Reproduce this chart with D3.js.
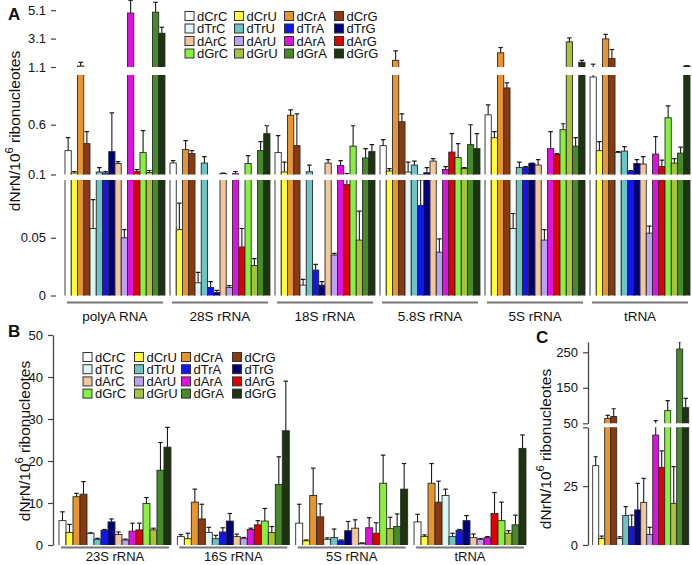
<!DOCTYPE html>
<html><head><meta charset="utf-8">
<script src="https://cdn.jsdelivr.net/npm/d3@7"></script>
<style>
body{margin:0;background:#fff}
svg{display:block}
text{font-family:Arial,"Liberation Sans",sans-serif;fill:#111}
</style>
</head><body>
<svg id="c" width="692" height="565"></svg>
<script>
// ---------- data ----------
const series = ["dCrC","dCrU","dCrA","dCrG","dTrC","dTrU","dTrA","dTrG","dArC","dArU","dArA","dArG","dGrC","dGrU","dGrA","dGrG"];
const seriesColors = ["#ffffff","#ffff33","#e8952f","#8b3a10","#dcf6f6","#6cc4c4","#1414f0","#00007a","#f2c79c","#b9a2f2","#e010e0","#e00000","#88f040","#a6c43a","#468a2a","#1c3410"];

// Panel A
const groupsA = ["polyA RNA","28S rRNA","18S rRNA","5.8S rRNA","5S rRNA","tRNA"];
const polyA_val = [0.34,0.115,1.17,0.41,0.058,0.125,0.115,0.33,0.21,0.050,4.9,0.128,0.32,0.12,4.96,3.48];
const polyA_err = [0.13,0.015,0.26,0.12,0.025,0.045,0.015,0.39,0.02,0.007,0.9,0.022,0.22,0.02,0.7,0.42];
const r28S_val  = [0.216,0.057,0.35,0.31,0.011,0.215,0.007,0.0025,0.11,0.007,0.108,0.042,0.21,0.026,0.34,0.51];
const r28S_err  = [0.024,0.023,0.09,0.03,0.009,0.065,0.005,0.002,0.003,0.0015,0.022,0.016,0.08,0.006,0.09,0.08];
const r18S_val  = [0.32,0.125,0.695,0.39,0.009,0.128,0.022,0.009,0.215,0.035,0.19,0.096,0.385,0.048,0.266,0.33];
const r18S_err  = [0.17,0.1,0.055,0.32,0.005,0.067,0.005,0.003,0.035,0.0015,0.05,0.014,0.205,0.025,0.094,0.07];
const r58S_val  = [0.39,0.135,1.57,0.63,0.125,0.195,0.078,0.118,0.235,0.0375,0.15,0.325,0.27,0.16,0.40,0.36];
const r58S_err  = [0.06,0.025,0.67,0.08,0.1,0.04,0.022,0.052,0.025,0.0115,0.03,0.185,0.14,0.01,0.2,0.15];
const r5S_val   = [0.70,0.47,2.1,0.97,0.058,0.17,0.17,0.21,0.195,0.048,0.36,0.30,0.55,2.87,0.385,1.43];
const r5S_err   = [0.10,0.06,0.37,0.05,0.013,0.055,0.01,0.005,0.055,0.009,0.17,0.01,0.06,0.28,0.085,0.14];
const tRNA_val  = [1.08,0.34,3.08,1.7,0.32,0.335,0.13,0.21,0.205,0.054,0.305,0.18,0.67,0.215,0.315,1.17];
const tRNA_err  = [0.22,0.09,0.32,0.63,0.01,0.045,0.01,0.04,0.075,0.006,0.175,0.065,0.12,0.045,0.06,0.02];
const ticksA_low = [0, 0.05];
const ticksA_mid = [0.1, 0.6];
const ticksA_top = [1.1, 3.1, 5.1];

// Panel B
const groupsB = ["23S rRNA","16S rRNA","5S rRNA","tRNA"];
const b23S_val = [5.8,3.0,11.5,12.1,2.8,1.35,3.5,5.5,2.5,1.2,3.3,3.6,9.9,3.6,17.8,23.3];
const b23S_err = [2.1,1.9,0.8,3.0,0.1,0.25,0.2,0.7,0.6,0.2,1.9,1.6,1.4,0.4,6.6,4.7];
const b16S_val = [2.0,1.5,10.2,6.2,3.0,1.5,3.1,5.7,2.0,1.6,3.7,4.8,5.7,3.0,14.4,27.2];
const b16S_err = [0.5,1.3,3.1,3.5,1.2,0.8,1.0,1.8,0.6,0.2,0.3,1.0,3.0,1.4,6.6,11.8];
const b5S_val  = [5.2,1.0,11.8,6.7,1.35,1.75,1.0,3.4,4.0,0.4,4.1,2.8,14.7,3.9,4.4,13.3];
const b5S_err  = [4.5,0.2,6.5,3.1,0.35,2.05,0.2,2.2,2.0,0.1,2.4,2.5,6.7,2.7,3.0,6.1];
const btRNA_val = [5.5,2.0,14.7,10.2,11.8,2.0,3.5,5.8,1.75,1.35,1.75,7.5,5.8,2.8,4.8,23.0];
const btRNA_err = [1.8,0.4,4.7,5.0,1.5,0.8,0.2,1.2,0.85,0.2,0.25,5.0,4.4,0.6,2.3,3.2];
const ticksB = [0,10,20,30,40,50];

// Panel C
const groupsC = ["C"];
const c_val = [33.7,2.8,64,69,2.8,12.5,7.8,14.9,18.1,4.5,46.7,33,85.7,17.7,259,94];
const c_err = [3.8,1.0,8.5,22,0.7,3.8,4.9,11.3,10.2,3.0,10.8,7,28,15.6,21,26];
const ticksC_low = [0, 25];
const ticksC_top = [50, 150, 250];

const yLabelMain = "dNrN/10";
const yLabelSup = "6";
const yLabelRest = " ribonucleotes";

// ---------- drawing ----------
const svg = d3.select("#c");
const defs = svg.append("defs");
let clipN = 0;
function clipRect(x0, x1, y0, y1) {
  const id = "cl" + (clipN++);
  defs.append("clipPath").attr("id", id).append("rect")
    .attr("x", x0).attr("y", y0).attr("width", x1 - x0).attr("height", y1 - y0);
  return id;
}

function buildRows(groups, vals, errs) {
  const rows = [];
  groups.forEach((g, gi) => {
    series.forEach((s, si) => rows.push({group: g, series: s, si, v: vals[gi][si], e: errs[gi][si]}));
  });
  return rows;
}

function drawBars(rows, xg, segments, capW) {
  const xs = d3.scaleBand().domain(series).range([0, xg.bandwidth()]);
  segments.forEach(seg => {
    const y = d3.scaleLinear().domain(seg.domain).range(seg.range);
    const top = seg.range[1], bot = seg.range[0];
    const id = clipRect(0, 692, top, bot);
    const g = svg.append("g").attr("clip-path", `url(#${id})`);
    const vis = rows.filter(d => d.v > seg.domain[0]);
    g.selectAll("rect.bar").data(vis).join("rect")
      .attr("class", "bar")
      .attr("x", d => xg(d.group) + xs(d.series))
      .attr("width", xs.bandwidth())
      .attr("y", d => Math.max(y(d.v), top - 4))
      .attr("height", d => bot + 4 - Math.max(y(d.v), top - 4))
      .attr("fill", d => seriesColors[d.si])
      .attr("stroke", "#2a2a2a").attr("stroke-width", 0.9);
    const ev = rows.filter(d => d.v + d.e > seg.domain[0] && d.v < seg.domain[1]);
    const cx = d => xg(d.group) + xs(d.series) + xs.bandwidth() / 2;
    g.selectAll("line.eb").data(ev).join("line")
      .attr("class", "eb")
      .attr("x1", cx).attr("x2", cx)
      .attr("y1", d => Math.min(y(d.v), bot + 4))
      .attr("y2", d => Math.max(y(d.v + d.e), top - 4))
      .attr("stroke", "#1a1a1a").attr("stroke-width", 1.1);
    const capd = rows.filter(d => d.v + d.e >= seg.domain[0] && d.v + d.e <= seg.domain[1] * 1.02);
    g.selectAll("line.cap").data(capd).join("line")
      .attr("class", "cap")
      .attr("x1", d => cx(d) - capW / 2).attr("x2", d => cx(d) + capW / 2)
      .attr("y1", d => y(d.v + d.e)).attr("y2", d => y(d.v + d.e))
      .attr("stroke", "#1a1a1a").attr("stroke-width", 1.2);
  });
}

function drawAxis(x, seg, ticks, showDomain, fmt) {
  const y = d3.scaleLinear().domain(seg.domain).range(seg.range);
  const ax = d3.axisLeft(y).tickValues(ticks).tickSize(5).tickSizeOuter(0).tickPadding(5);
  if (fmt) ax.tickFormat(fmt);
  const g = svg.append("g").attr("transform", `translate(${x},0)`).call(ax);
  g.attr("font-size", 13).attr("font-family", "Arial, 'Liberation Sans', sans-serif");
  g.selectAll("text").attr("fill", "#111");
  g.selectAll("line").attr("stroke", "#444").attr("stroke-width", 1.2);
  if (!showDomain) g.select(".domain").remove();
  else g.select(".domain").attr("stroke", "#444").attr("stroke-width", 1.3);
  return g;
}

function drawLegend(xs, y0, step) {
  for (let c = 0; c < 4; c++) {
    for (let r = 0; r < 4; r++) {
      const si = r * 4 + c;
      const cy = y0 + r * step;
      svg.append("rect").attr("x", xs[c]).attr("y", cy - 4.5).attr("width", 9).attr("height", 9)
        .attr("fill", seriesColors[si]).attr("stroke", "#333").attr("stroke-width", 1);
      svg.append("text").attr("x", xs[c] + 12).attr("y", cy + 4.5).attr("font-size", 13)
        .text(series[si]);
    }
  }
}

function yLabel(x, cy) {
  const t = svg.append("text").attr("transform", `translate(${x},${cy}) rotate(-90)`)
    .attr("text-anchor", "middle").attr("font-size", 15.5);
  t.append("tspan").text(yLabelMain);
  t.append("tspan").attr("font-size", 11).attr("dy", -7).text(yLabelSup);
  t.append("tspan").attr("dy", 7).text(yLabelRest);
}

function underlines(xg, yLine, groupLabelY, fs) {
  const g = svg.append("g");
  g.selectAll("line").data(xg.domain()).join("line")
    .attr("x1", d => xg(d) + 2).attr("x2", d => xg(d) + xg.bandwidth() - 2)
    .attr("y1", yLine).attr("y2", yLine)
    .attr("stroke", "#777").attr("stroke-width", 2);
  g.selectAll("text").data(xg.domain()).join("text")
    .attr("x", d => xg(d) + xg.bandwidth() / 2).attr("y", groupLabelY)
    .attr("text-anchor", "middle").attr("font-size", fs).text(d => d);
}

// ----- Panel A -----
const xA = d3.scaleBand().domain(groupsA).range([65, 690]).paddingInner(0.048).paddingOuter(0);
const segA = [
  {domain: [0, 0.1], range: [295.5, 180]},
  {domain: [0.1, 1.1], range: [174.5, 75]},
  {domain: [1.1, 5.82], range: [67, 0]}
];
const rowsA = buildRows(groupsA,
  [polyA_val, r28S_val, r18S_val, r58S_val, r5S_val, tRNA_val],
  [polyA_err, r28S_err, r18S_err, r58S_err, r5S_err, tRNA_err]);
drawBars(rowsA, xA, segA, 4.5);
drawAxis(56, segA[0], ticksA_low, false, d => d === 0 ? "0" : d3.format(".2f")(d));
drawAxis(56, segA[1], ticksA_mid, false, d3.format(".1f"));
drawAxis(56, segA[2], ticksA_top, false, d3.format(".1f"));
underlines(xA, 302.5, 321, 13.5);
drawLegend([185, 234.5, 284.5, 334.5], 16, 12.5);
yLabel(20, 131);
svg.append("text").attr("x", 8).attr("y", 20).attr("font-size", 17).attr("font-weight", "bold").text("A");

// ----- Panel B -----
const xB = d3.scaleBand().domain(groupsB).range([59, 526]).paddingInner(0.054).paddingOuter(0);
const segB = [{domain: [0, 50], range: [545, 335]}];
const rowsB = buildRows(groupsB,
  [b23S_val, b16S_val, b5S_val, btRNA_val],
  [b23S_err, b16S_err, b5S_err, btRNA_err]);
drawBars(rowsB, xB, segB, 4.5);
drawAxis(53, segB[0], ticksB, true);
underlines(xB, 547.5, 561, 13);
drawLegend([83, 134.5, 181.5, 232.5], 357, 12.2);
yLabel(30, 441);
svg.append("text").attr("x", 8).attr("y", 337).attr("font-size", 17).attr("font-weight", "bold").text("B");

// ----- Panel C -----
const xC = d3.scaleBand().domain(groupsC).range([592.7, 688.7]).paddingInner(0).paddingOuter(0);
const segC = [
  {domain: [0, 50], range: [545, 427.3]},
  {domain: [50, 279], range: [423.3, 342]}
];
const rowsC = buildRows(groupsC, [c_val], [c_err]);
drawBars(rowsC, xC, segC, 4.2);
drawAxis(588, segC[0], ticksC_low.concat([50]), true, d => d === 50 ? "" : d);
drawAxis(588, segC[1], ticksC_top, true);
yLabel(551, 449);
svg.append("text").attr("x", 536).attr("y", 343).attr("font-size", 17).attr("font-weight", "bold").text("C");
</script>
</body></html>
